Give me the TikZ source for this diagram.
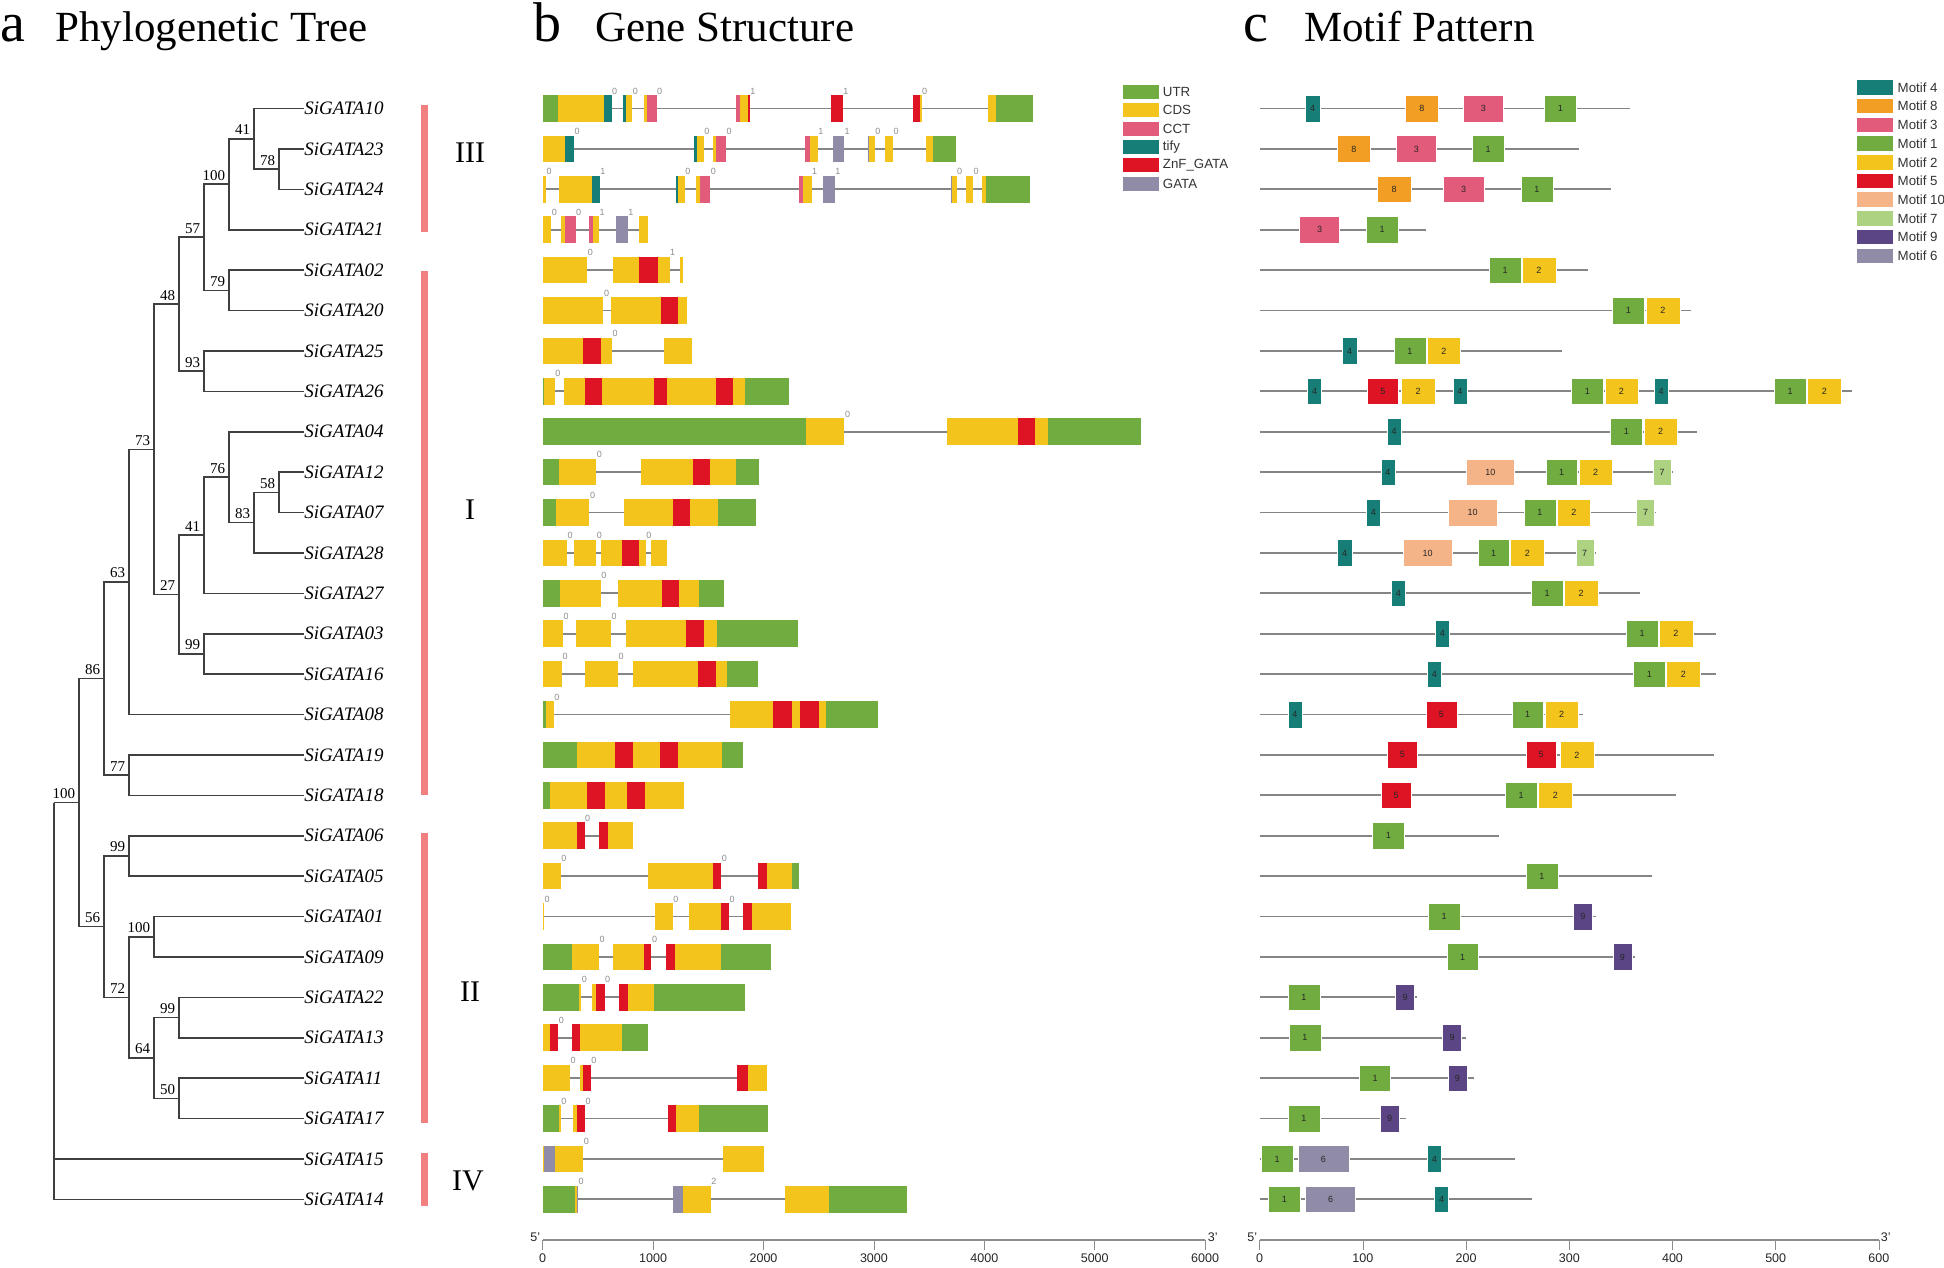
\documentclass[tikz,border=0pt]{standalone}
\usepackage{fontspec}
\setmainfont{Liberation Serif}
\setsansfont{Liberation Sans}
\usetikzlibrary{positioning}

\definecolor{cUTR}{HTML}{70AC40}
\definecolor{cCDS}{HTML}{F2C41C}
\definecolor{cCCT}{HTML}{E25B7A}
\definecolor{cTIFY}{HTML}{167E76}
\definecolor{cZNF}{HTML}{DE1324}
\definecolor{cGATA}{HTML}{908CA8}
\definecolor{cClade}{HTML}{F28080}
\definecolor{mot1}{HTML}{70AC40}
\definecolor{mot2}{HTML}{F2C41C}
\definecolor{mot3}{HTML}{E25B7A}
\definecolor{mot4}{HTML}{167E76}
\definecolor{mot5}{HTML}{DE1324}
\definecolor{mot6}{HTML}{908CA8}
\definecolor{mot7}{HTML}{ACD282}
\definecolor{mot8}{HTML}{F29D24}
\definecolor{mot9}{HTML}{5B4585}
\definecolor{mot10}{HTML}{F5B488}

% one gene: row, length, segments kind/from/to, phases at/value
\newcommand{\generow}[4]{%
  \draw[intron] (0,#1) -- (#2,#1);
  \foreach \typ/\xa/\xb in {#3}{\fill[\typ] (\xa,#1-0.33) rectangle (\xb,#1+0.33);}
  \foreach \xp/\ph [count=\k] in {#4}{\node[phase] (p#1-\k) at (\xp,#1-0.33) {\ph};}
}
% one protein: row, length, motifs number/from/to
\newcommand{\motifrow}[3]{%
  \draw[intron] (0,#1) -- (#2,#1);
  \foreach \mn/\xa/\xb [count=\k] in {#3}{%
    \filldraw[motbox,fill=mot\mn] (\xa,#1-0.33) rectangle (\xb,#1+0.33);
    \node[mlab] (m#1-\k) at ({(\xa+\xb)/2},#1) {\mn};}
}

\begin{document}
\begin{tikzpicture}[x=1pt,y=-1pt,
  branch/.style={draw=black!75,line width=1.6pt},
  leaf/.style={anchor=west,inner sep=0.5pt,font=\fontsize{19}{22}\selectfont\itshape},
  boot/.style={anchor=base east,inner sep=0pt,xshift=-3.5pt,yshift=4pt,font=\fontsize{15}{17}\selectfont},
  clade/.style={fill=cClade},
  cladelab/.style={inner sep=0pt,font=\fontsize{30}{34}\selectfont},
  panel/.style={anchor=base west,inner sep=0pt,font=\fontsize{56}{60}\selectfont},
  title/.style={anchor=base west,inner sep=0pt,font=\fontsize{43}{48}\selectfont},
  intron/.style={draw=black!48,line width=1.8pt},
  utr/.style={fill=cUTR}, cds/.style={fill=cCDS}, cct/.style={fill=cCCT},
  tify/.style={fill=cTIFY}, znf/.style={fill=cZNF}, gata/.style={fill=cGATA},
  phase/.style={anchor=south west,inner sep=0pt,xshift=0.4pt,yshift=0.8pt,font=\sffamily\fontsize{9}{10}\selectfont,text=black!45},
  motbox/.style={draw=white,line width=0.4pt},
  mlab/.style={inner sep=0pt,font=\sffamily\fontsize{9}{10}\selectfont,text=black!85},
  swatch/.style={minimum width=36pt,minimum height=14pt,inner sep=0pt},
  legtext/.style={inner sep=0pt,font=\sffamily\fontsize{13.3}{15}\selectfont,text=black!80},
  scaleline/.style={draw=black!45,line width=1.2pt},
  tickmark/.style={draw=black!45,line width=0.8pt},
  ticklab/.style={inner sep=0pt,font=\sffamily\fontsize{12.5}{14}\selectfont,text=black!85},
]
\useasboundingbox (0,0) rectangle (1944,1267);
% panel titles
\node[panel] (pa) at (0,41.7) {a};
\node[title] (ta) at (55,41.7) {Phylogenetic Tree};
\node[panel] (pb) at (533,41.7) {b};
\node[title] (tb) at (595,41.7) {Gene Structure};
\node[panel] (pc) at (1243,41.7) {c};
\node[title] (tc) at (1304,41.7) {Motif Pattern};

% tree
\begin{scope}[xshift=53.7pt,yshift=-108.5pt,x=25pt,y=-40.4pt]
\foreach \g [count=\i from 0] in {10,23,24,21,02,20,25,26,04,12,07,28,27,03,16,08,19,18,06,05,01,09,22,13,11,17,15,14}{
  \coordinate (t\g) at (10,\i);
  \node[leaf] (l\g) at (t\g) {SiGATA\g};
}
\foreach \n/\lv/\r in {n78/9/1.5, n41a/8/0.75, n100b/7/1.875, n79/7/4.5, n57/6/3.1875,
  n93/6/6.5, n48/5/4.84375, n58/9/9.5, n83/8/10.25, n76/7/9.125, n41b/6/10.5625,
  n99a/6/13.5, n27/5/12.03125, n73/4/8.4375, n63/3/11.71875, n77/3/16.5,
  n86/2/14.109375, n99b/3/18.5, n100c/4/20.5, n99c/5/22.5, n50/5/24.5, n64/4/23.5,
  n72/3/22, n56/2/20.25, n100a/1/17.1797, root/0/17.1797}
  \coordinate (\n) at (\lv,\r);
\foreach \p/\c in {n78/t23, n78/t24, n41a/t10, n41a/n78, n100b/n41a, n100b/t21,
  n79/t02, n79/t20, n57/n100b, n57/n79, n93/t25, n93/t26, n48/n57, n48/n93,
  n58/t12, n58/t07, n83/n58, n83/t28, n76/t04, n76/n83, n41b/n76, n41b/t27,
  n99a/t03, n99a/t16, n27/n41b, n27/n99a, n73/n48, n73/n27, n63/n73, n63/t08,
  n77/t19, n77/t18, n86/n63, n86/n77, n99b/t06, n99b/t05, n100c/t01, n100c/t09,
  n99c/t22, n99c/t13, n50/t11, n50/t17, n64/n99c, n64/n50, n72/n100c, n72/n64,
  n56/n99b, n56/n72, n100a/n86, n100a/n56, root/n100a, root/t15, root/t14}
  \draw[branch] (\p) |- (\c);
\foreach \n/\v in {n78/78, n41a/41, n100b/100, n79/79, n57/57, n93/93, n48/48,
  n58/58, n83/83, n76/76, n41b/41, n99a/99, n27/27, n73/73, n63/63, n77/77,
  n86/86, n99b/99, n100c/100, n99c/99, n50/50, n64/64, n72/72, n56/56, n100a/100}
  \node[boot] (b\n) at (\n) {\v};
\end{scope}

% subfamilies
\fill[clade] (421,105.3) rectangle (427.5,231.7);
\fill[clade] (421,271) rectangle (427.5,794.7);
\fill[clade] (421,833.3) rectangle (427.5,1123.3);
\fill[clade] (421,1153.3) rectangle (427.5,1206);
\node[cladelab] (c3) at (470,153) {III};
\node[cladelab] (c1) at (470,510) {I};
\node[cladelab] (c2) at (470,992) {II};
\node[cladelab] (c4) at (468,1181) {IV};

% gene structure
\begin{scope}[xshift=542.7pt,yshift=-108.5pt,y=-40.4pt]
\generow{0}{490.4}{utr/0/15.4,cds/15.4/61.1,tify/61.1/68.9,tify/80/83.2,cds/83.2/89.6,cds/101.4/103.9,cct/103.9/113.9,cct/193.2/197.1,cds/197.1/205.4,znf/205.4/207.1,znf/288.6/300,znf/370.4/376.8,cds/376.8/378.9,cds/445.4/453.6,utr/453.6/490.4}{68.9/0,89.6/0,113.9/0,207.1/1,300/1,378.9/0}
\generow{1}{413.6}{cds/0/22.1,tify/22.1/31.4,tify/151.4/154.6,cds/154.6/161.1,cds/170.4/173.2,cct/173.2/183.2,cct/262.5/266.8,cds/266.8/275,gata/290/301.4,gata/325/326.1,cds/326.1/332.1,cds/342.1/350.4,cds/383.2/390.7,utr/390.7/413.6}{31.4/0,161.1/0,183.2/0,275/1,301.4/1,332.1/0,350.4/0}
\generow{2}{486.8}{cds/0/3.2,cds/16.1/49.6,tify/49.6/57.1,tify/132.9/135.7,cds/135.7/142.1,cds/152.9/157.5,cct/157.5/167.5,cct/256.1/260,cds/260/268.9,gata/280.7/292.1,gata/407.9/409.3,cds/409.3/413.9,cds/422.9/430.4,cds/439.3/443.6,utr/443.6/486.8}{3.2/0,57.1/1,142.1/0,167.5/0,268.9/1,292.1/1,413.9/0,430.4/0}
\generow{3}{105}{cds/0/8.6,cds/18.6/22.5,cct/22.5/32.9,cct/46.4/50.4,cds/50.4/56.4,gata/73.6/85,cds/96.4/105}{8.6/0,32.9/0,56.4/1,85/1}
\generow{4}{140.4}{cds/0/44.6,cds/70/96.4,znf/96.4/115,cds/115/126.8,cds/137.5/140.4}{44.6/0,126.8/1}
\generow{5}{144.6}{cds/0/60.7,cds/67.9/118.2,znf/118.2/135.7,cds/135.7/144.6}{60.7/0}
\generow{6}{149}{cds/0/40.6,znf/40.6/58,cds/58/69.3,cds/121.3/149}{69.3/0}
\generow{7}{245.8}{utr/0/1,cds/1/12,cds/21.1/42.4,znf/42.4/58.8,cds/58.8/110.9,znf/110.9/124.3,cds/124.3/172.9,znf/172.9/189.8,cds/189.8/202,utr/202/245.8}{12/0}
\generow{8}{597.9}{utr/0/263.5,cds/263.5/301.7,cds/404/475.6,znf/475.6/492.5,cds/492.5/505.5,utr/505.5/597.9}{301.7/0}
\generow{9}{216.7}{utr/0/15.9,cds/15.9/53.6,cds/98.7/149.9,znf/149.9/167.3,cds/167.3/193.3,utr/193.3/216.7}{53.6/0}
\generow{10}{213.7}{utr/0/13.7,cds/13.7/46.7,cds/81.4/130.4,znf/130.4/147.3,cds/147.3/175.5,utr/175.5/213.7}{46.7/0}
\generow{11}{123.9}{cds/0/24.2,cds/31.5/53.6,cds/58/79.7,znf/79.7/96.6,cds/96.6/103.1,cds/107.9/123.9}{24.2/0,53.6/0,103.1/0}
\generow{12}{181.1}{utr/0/17.2,cds/17.2/58,cds/75.3/119.1,znf/119.1/136,cds/136/156.4,utr/156.4/181.1}{58/0}
\generow{13}{254.9}{cds/0/20.3,cds/33.7/68.4,cds/83.1/143,znf/143/161.2,cds/161.2/174.2,utr/174.2/254.9}{20.3/0,68.4/0}
\generow{14}{215.4}{cds/0/19.4,cds/42.4/75.3,cds/90.5/155.6,znf/155.6/173.3,cds/173.3/184.2,utr/184.2/215.4}{19.4/0,75.3/0}
\generow{15}{335.1}{utr/0/3.3,cds/3.3/11.1,cds/187.6/230.6,znf/230.6/249.2,cds/249.2/257.5,znf/257.5/276.1,cds/276.1/283,utr/283/335.1}{11.1/0}
\generow{16}{200.7}{utr/0/34.1,cds/34.1/72.7,znf/72.7/90.1,cds/90.1/117.4,znf/117.4/135.6,cds/135.6/179.4,utr/179.4/200.7}{}
\generow{17}{141.2}{utr/0/7.7,cds/7.7/44.5,znf/44.5/61.9,cds/61.9/84.4,znf/84.4/102.6,cds/102.6/141.2}{}
\generow{18}{90.5}{cds/0/34.1,znf/34.1/41.9,znf/56.2/65.4,cds/65.4/90.5}{41.9/0}
\generow{19}{256.6}{cds/0/18.1,cds/105.2/170.3,znf/170.3/178.5,znf/215/224.1,cds/224.1/249.2,utr/249.2/256.6}{18.1/0,178.5/0}
\generow{20}{247.9}{cds/0/1.2,cds/112.6/130,cds/146/178.1,znf/178.1/186.3,znf/200.7/208.9,cds/208.9/247.9}{1.2/0,130/0,186.3/0}
\generow{21}{228.4}{utr/0/29.4,cds/29.4/56.2,cds/70.6/100.9,znf/100.9/108.7,znf/123.5/132.1,cds/132.1/178.1,utr/178.1/228.4}{56.2/0,108.7/0}
\generow{22}{202.4}{utr/0/35.9,cds/35.9/38.5,cds/49.3/53.6,znf/53.6/61.9,znf/75.8/84.9,cds/84.9/111.3,utr/111.3/202.4}{38.5/0,61.9/0}
\generow{23}{105.2}{cds/0/7.7,znf/7.7/15.5,znf/28.9/37.6,cds/37.6/79.7,utr/79.7/105.2}{15.5/0}
\generow{24}{224.5}{cds/0/27.2,cds/37.2/39.8,znf/39.8/48,znf/194.1/205,cds/205/224.5}{27.2/0,48/0}
\generow{25}{224.9}{utr/0/15.9,cds/15.9/18.1,cds/30.7/34.6,znf/34.6/42.4,znf/124.8/133.4,cds/133.4/156.4,utr/156.4/224.9}{18.1/0,42.4/0}
\generow{26}{221}{cds/0/1.6,gata/1.6/12.4,cds/12.4/40.6,cds/179.8/221}{40.6/0}
\generow{27}{364.1}{utr/0/32,cds/32/34.1,gata/34.1/35.4,gata/130.4/139.9,cds/139.9/168.1,cds/242.3/286.5,utr/286.5/364.1}{35.4/0,168.1/2}
\end{scope}

% motif pattern
\begin{scope}[xshift=1259.7pt,yshift=-108.5pt,y=-40.4pt]
\motifrow{0}{369.9}{4/45.8/60,8/145.7/178.6,3/203.5/243.7,1/284.6/316.7}
\motifrow{1}{319.4}{8/77.6/110.8,3/136.5/176.7,1/212.6/244.4}
\motifrow{2}{351.2}{8/117.7/151,3/183.9/224.1,1/261.3/293}
\motifrow{3}{166}{3/39.7/79.9,1/106.6/138.4}
\motifrow{4}{327.8}{1/229.5/261.3,2/262/296.5}
\motifrow{5}{430.8}{1/352.7/384.5,2/386/420.1}
\motifrow{6}{301.8}{4/82.9/97.1,1/134.2/166.3,2/167.5/200.8}
\motifrow{7}{592.6}{4/47.7/61.9,5/107.8/138.4,2/141.8/175.1,4/193.1/207.3,1/311.8/343.5,2/345.1/378.4,4/394.4/408.2,1/514.6/546.4,2/547.9/581.2}
\motifrow{8}{436.9}{4/127.3/141.5,1/350.8/382.6,2/384.1/417.8}
\motifrow{9}{412.8}{4/121.2/135.3,10/206.5/254.7,1/286.1/317.9,2/319/352.7,7/393.3/411.6}
\motifrow{10}{396.7}{4/106.6/120.8,10/188.9/237.1,1/264.3/296.1,2/297.2/330.9,7/376.8/394.8}
\motifrow{11}{335.9}{4/77.9/92.1,10/143.8/192,1/218/249.8,2/250.9/284.6,7/316/334}
\motifrow{12}{379.9}{4/131.5/145.7,1/271.6/303.3,2/304.5/338.2}
\motifrow{13}{456.4}{4/175.5/189.7,1/366.5/398.3,2/399.4/433.1}
\motifrow{14}{456.4}{4/167.5/181.7,1/373.8/405.5,2/406.7/440.4}
\motifrow{15}{323.3}{4/28.2/42.3,5/166.3/197,1/252.1/283.8,2/285/318.7}
\motifrow{16}{454.5}{5/127.3/157.9,5/266.2/296.8,2/300.3/334}
\motifrow{17}{416.3}{5/121.2/151.8,1/245.6/277.3,2/278.9/312.5}
\motifrow{18}{239.4}{1/112.8/144.5}
\motifrow{19}{391.8}{1/266.2/298}
\motifrow{20}{335.9}{1/168.6/200,9/313.7/332.8}
\motifrow{21}{374.9}{1/187/218.8,9/353.1/372.2}
\motifrow{22}{157.5}{1/28.2/60,9/135.7/154.9}
\motifrow{23}{205.8}{1/29.3/61.1,9/182.8/201.9}
\motifrow{24}{214.2}{1/99.8/130.8,9/188.2/207.3}
\motifrow{25}{146.1}{1/28.2/60,9/120.4/139.2}
\motifrow{26}{255.5}{1/1.8/33.2,6/38.5/89,4/167.5/181.7}
\motifrow{27}{272}{1/8.7/40.4,6/45.8/95.9,4/174.8/188.9}
\end{scope}

% scales
\begin{scope}[xshift=542.7pt]
\draw[scaleline] (0,1240) -- (662.4,1240);
\foreach \k in {0,...,6}{
  \draw[tickmark] (\k*110.4,1240) -- (\k*110.4,1250);
  \node[ticklab] (gt\k) at (\k*110.4,1258) {\pgfmathparse{int(\k*1000)}\pgfmathresult};
}
\node[ticklab] (g5) at (-7.5,1237) {5'};
\node[ticklab] (g3) at (670,1237) {3'};
\end{scope}
\begin{scope}[xshift=1259.7pt]
\draw[scaleline] (0,1240) -- (619.2,1240);
\foreach \k in {0,...,6}{
  \draw[tickmark] (\k*103.2,1240) -- (\k*103.2,1250);
  \node[ticklab] (mt\k) at (\k*103.2,1258) {\pgfmathparse{int(\k*100)}\pgfmathresult};
}
\node[ticklab] (m5) at (-7.5,1237) {5'};
\node[ticklab] (m3) at (626,1237) {3'};
\end{scope}

% legends
\foreach \c/\t [count=\i] in {cUTR/UTR, cCDS/CDS, cCCT/CCT, cTIFY/tify, cZNF/ZnF\_GATA, cGATA/GATA}{
  \node[swatch,fill=\c] (gs\i) at (1140.5,{92+18.3*(\i-1)}) {};
  \node[legtext,right=4pt of gs\i] (gl\i) {\t};
}
\foreach \m [count=\i] in {4,8,3,1,2,5,10,7,9,6}{
  \node[swatch,fill=mot\m,minimum height=14.5pt] (ms\i) at (1875.3,{87.5+18.7*(\i-1)}) {};
  \node[legtext,right=4pt of ms\i] (ml\i) {Motif \m};
}
\end{tikzpicture}
\end{document}
